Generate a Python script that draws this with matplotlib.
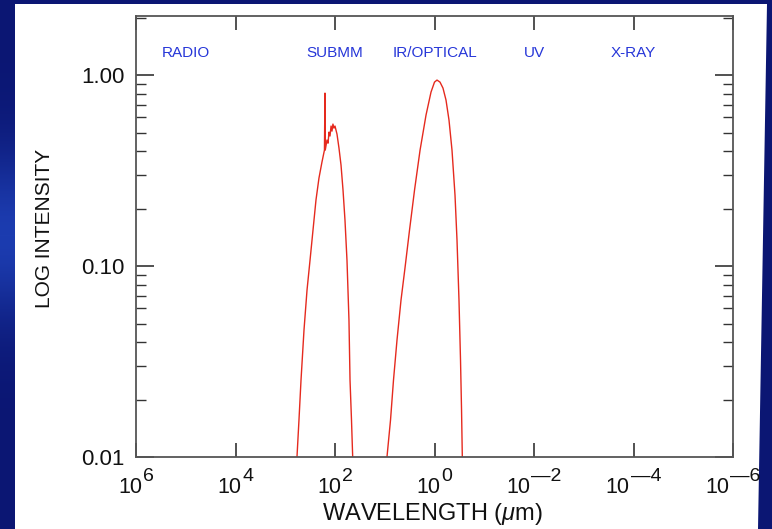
import matplotlib
matplotlib.use("Agg")
import matplotlib.pyplot as plt
import numpy as np
from matplotlib.patches import Polygon
from matplotlib.transforms import offset_copy
from matplotlib.ticker import FixedLocator, NullLocator, LogLocator, NullFormatter, FixedFormatter

# ---------------- data ----------------
dust_wavelength_um = [581, 530, 482, 420, 365, 318, 277, 241, 210, 183, 163, 159, 157,
                      145, 138, 132, 126, 120, 115, 110, 105, 100, 91.2, 83.2, 75.7,
                      69.0, 63.0, 57.4, 52.4, 49.9, 46.6, 44.1]
dust_intensity = [0.0100, 0.0156, 0.0253, 0.0462, 0.0749, 0.107, 0.154, 0.222, 0.289,
                  0.350, 0.405, 0.805, 0.405, 0.457, 0.440, 0.503, 0.480, 0.541, 0.509,
                  0.554, 0.528, 0.541, 0.491, 0.415, 0.338, 0.250, 0.174, 0.107, 0.0522,
                  0.0253, 0.0156, 0.0100]

stellar_wavelength_um = [9.02, 7.66, 6.67, 5.67, 4.71, 3.92, 3.18, 2.52, 1.95, 1.48, 1.175,
                         1.0, 0.891, 0.775, 0.675, 0.587, 0.511, 0.445, 0.387, 0.353,
                         0.322, 0.300, 0.286, 0.276]
stellar_intensity = [0.0100, 0.0156, 0.0253, 0.0410, 0.0664, 0.0976, 0.154, 0.250, 0.405,
                     0.618, 0.815, 0.919, 0.942, 0.919, 0.855, 0.740, 0.581, 0.405, 0.235,
                     0.137, 0.0664, 0.0322, 0.0176, 0.0100]

band_names = ["RADIO", "SUBMM", "IR/OPTICAL", "UV", "X-RAY"]
band_wavelength_um = [1e5, 1e2, 1e0, 1e-2, 1e-4]
band_label_level = 1.30

x_tick_values = [1e6, 1e4, 1e2, 1e0, 1e-2, 1e-4, 1e-6]
x_tick_exponents = ["6", "4", "2", "0", "\u2014" + "2", "\u2014" + "4", "\u2014" + "6"]
y_tick_values = [0.01, 0.1, 1.0]
y_tick_labels = ["0.01", "0.10", "1.00"]

# ---------------- figure ----------------
plt.rcParams['font.family'] = ['Liberation Sans', 'DejaVu Sans']
plt.rcParams['mathtext.fontset'] = 'custom'
plt.rcParams['mathtext.rm'] = 'Liberation Sans'
plt.rcParams['mathtext.it'] = 'Liberation Sans:italic'

W, H = 772, 529
navy = np.array([0x0b, 0x16, 0x73]) / 255
light = np.array([0x1c, 0x3c, 0xb0]) / 255
fig = plt.figure(figsize=(W / 100, H / 100), dpi=100, facecolor=navy)

# left border gradient
gax = fig.add_axes([0, 0, 15 / W, 1])
gax.axis('off')
yy = np.arange(H)
bump = np.exp(-((yy - 235) / 85.0) ** 2)[:, None]
col = navy[None, :] + bump * (light - navy)[None, :]
gax.imshow(col[:, None, :], aspect='auto', extent=(0, 1, 0, 1), origin='upper')

# white panel
panel = Polygon([(15 / W, 0), (758 / W, 0), (767 / W, 1 - 4 / H), (15 / W, 1 - 4 / H)],
                closed=True, transform=fig.transFigure, facecolor='white',
                edgecolor='none', zorder=-1)
fig.patches.append(panel)

ax = fig.add_axes([136 / W, 1 - 457 / H, (733 - 136) / W, (457 - 16) / H])
ax.set_facecolor('none')
ax.set_xscale('log')
ax.set_yscale('log')
ax.set_xlim(1e6, 1e-6)
ax.set_ylim(0.01, 2.04)

red = '#e52a1e'
ax.plot(dust_wavelength_um, dust_intensity, color=red, lw=1.0)
ax.plot(stellar_wavelength_um, stellar_intensity, color=red, lw=1.0)

for s in ax.spines.values():
    s.set_color('#555555')
    s.set_linewidth(1.3)

ax.xaxis.set_major_locator(FixedLocator(x_tick_values))
ax.xaxis.set_minor_locator(NullLocator())
ax.tick_params(axis='x', which='major', direction='in', length=10, width=1.2,
               color='#333333', top=True, bottom=True, labelbottom=False)

ax.yaxis.set_major_locator(FixedLocator(y_tick_values))
ax.yaxis.set_major_formatter(FixedFormatter(y_tick_labels))
ax.yaxis.set_minor_locator(LogLocator(base=10, subs=np.arange(2, 10)))
ax.yaxis.set_minor_formatter(NullFormatter())
ax.tick_params(axis='y', which='major', direction='in', length=13, width=1.2,
               color='#333333', left=True, right=True, labelsize=16, pad=8,
               labelcolor='#111111')
ax.tick_params(axis='y', which='minor', direction='in', length=7, width=1.0,
               color='#333333', left=True, right=True)

# band labels
for name, wl in zip(band_names, band_wavelength_um):
    ax.text(wl, band_label_level, name, ha='center', va='center',
            color='#2636d8', fontsize=11)

# x tick labels with large exponents
renderer = fig.canvas.get_renderer()
base = ax.get_xaxis_transform()
for v, e in zip(x_tick_values, x_tick_exponents):
    t1 = ax.text(v, 0, "10", ha='left', va='baseline', fontsize=15.5, color='#111111',
                 transform=base)
    t2 = ax.text(v, 0, e, ha='left', va='baseline', fontsize=14, color='#111111',
                 transform=base)
    w1 = t1.get_window_extent(renderer).width
    w2 = t2.get_window_extent(renderer).width
    gap = 1
    total = w1 + gap + w2
    t1.set_transform(offset_copy(base, fig, x=-total / 2, y=-36, units='dots'))
    t2.set_transform(offset_copy(base, fig, x=-total / 2 + w1 + gap, y=-24, units='dots'))

fig.text(45 / W, 1 - 228 / H, "LOG INTENSITY", rotation=90, ha='center', va='center',
         fontsize=15, color='#111111')
fig.text(432 / W, 1 - 514 / H, r"WAVELENGTH ($\mu$m)", ha='center', va='center',
         fontsize=17, color='#111111')

fig.savefig("out.png", dpi=100, facecolor=fig.get_facecolor())
